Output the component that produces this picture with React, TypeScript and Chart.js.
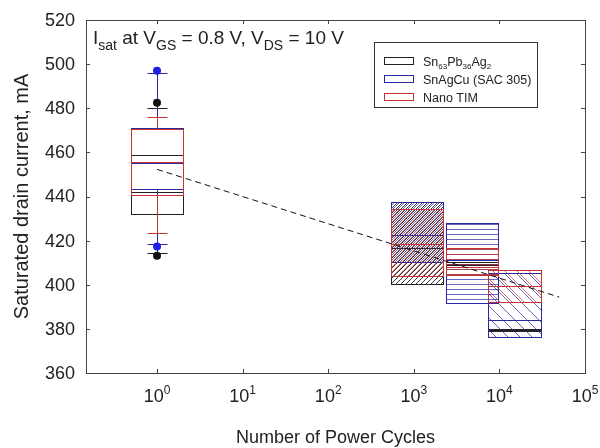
import { useEffect, useRef } from 'react';
import { Chart, registerables } from 'chart.js';

Chart.register(...registerables);

// Power-cycle counts at which each set of boxes is centred
const cycleGroups = [1, 1100, 4800, 15000];
// Fill used by every box in a group
const groupHatch = ['none', 'forward', 'horizontal', 'backward'];

const seriesNames = ['Sn63Pb36Ag2', 'SnAgCu (SAC 305)', 'Nano TIM'];

// Sn63Pb36Ag2 solder
const snpbQ1 = [432, 400.2, 408.8, 379];
const snpbMedian = [459, 416.5, 409.5, 379.5];
const snpbQ3 = [471, 437.4, 410.2, 380];
const snpbMean = [442.2, null, null, null];
const snpbLow = [414.2, null, null, null];
const snpbHigh = [480, null, null, null];
const snpbOutliers = [413.2, 482.5];

// SnAgCu (SAC 305)
const sacQ1 = [443.3, 410.4, 391.9, 376.4];
const sacMedian = [455, 422.5, 411, 384];
const sacQ3 = [471, 437.4, 427.8, 405.3];
const sacMean = [null, null, null, null];
const sacLow = [418.5, null, null, null];
const sacHigh = [495.8, null, null, null];
const sacOutliers = [417.3, 497];

// Nano TIM
const nanoQ1 = [440.7, 404, 404.4, 392.3];
const nanoMedian = [455.5, 418.3, 408.2, 399.5];
const nanoQ3 = [470.6, 434.2, 416.5, 406.7];
const nanoMean = [null, null, null, null];
const nanoLow = [423.6, null, null, null];
const nanoHigh = [475.9, null, null, null];

// Trend line, linear in log(cycles)
const trendCycles = [1, 50000];
const trendCurrent = [452.3, 394.4];

const yTicks = [360, 380, 400, 420, 440, 460, 480, 500, 520];
const xTickExponents = [0, 1, 2, 3, 4, 5];

const X_MIN = 0.148;
const X_MAX = 100000;
const BOX_SPAN = 2.015; // half box width as a factor in cycles
const CAP_HALF = 10;
const FONT = 'Arial, "Liberation Sans", sans-serif';

const BLACK = '#222222';
const BLUE = '#2a2aa0';
const RED = '#c83232';

type Part = [string, 'n' | 'sub' | 'sup'];

function richWidth(ctx: CanvasRenderingContext2D, parts: Part[], size: number, small: number) {
  let w = 0;
  for (const [t, k] of parts) {
    ctx.font = `${k === 'n' ? size : small}px ${FONT}`;
    w += ctx.measureText(t).width;
  }
  return w;
}

function drawRich(
  ctx: CanvasRenderingContext2D,
  parts: Part[],
  x: number,
  y: number,
  size: number,
  small: number,
  align: 'left' | 'center' = 'left'
) {
  let cx = align === 'center' ? x - richWidth(ctx, parts, size, small) / 2 : x;
  ctx.textAlign = 'left';
  ctx.textBaseline = 'alphabetic';
  for (const [t, k] of parts) {
    ctx.font = `${k === 'n' ? size : small}px ${FONT}`;
    const dy = k === 'sub' ? size * 0.3 : k === 'sup' ? -size * 0.45 : 0;
    ctx.fillText(t, cx, y + dy);
    cx += ctx.measureText(t).width;
  }
}

function makeHatch(kind: string, color: string, s: number, offset: number) {
  const c = document.createElement('canvas');
  c.width = s;
  c.height = s;
  const g = c.getContext('2d')!;
  g.strokeStyle = color;
  g.lineWidth = 1;
  g.beginPath();
  if (kind === 'horizontal') {
    g.moveTo(0, s - 0.5);
    g.lineTo(s, s - 0.5);
  } else if (kind === 'forward') {
    g.moveTo(0, s);
    g.lineTo(s, 0);
    g.moveTo(-1, 1);
    g.lineTo(1, -1);
    g.moveTo(s - 1, s + 1);
    g.lineTo(s + 1, s - 1);
  } else {
    g.moveTo(0, 0);
    g.lineTo(s, s);
    g.moveTo(s - 1, -1);
    g.lineTo(s + 1, 1);
    g.moveTo(-1, s - 1);
    g.lineTo(1, s + 1);
  }
  g.stroke();
  const p = g.createPattern(c, 'repeat')!;
  if (offset && (p as any).setTransform) {
    p.setTransform(new DOMMatrix().translate(offset, 0));
  }
  return p;
}

const hatchSpacing: Record<string, number> = { forward: 5, horizontal: 5, backward: 12 };

export default function App() {
  const ref = useRef<HTMLCanvasElement | null>(null);

  useEffect(() => {
    const canvas = ref.current;
    if (!canvas) return;

    const series = [
      { color: BLACK, hatch: 'rgba(20,20,20,0.85)', off: 0, q1: snpbQ1, med: snpbMedian, q3: snpbQ3, mean: snpbMean, low: snpbLow, high: snpbHigh },
      { color: BLUE, hatch: 'rgba(40,40,170,0.7)', off: 2, q1: sacQ1, med: sacMedian, q3: sacQ3, mean: sacMean, low: sacLow, high: sacHigh },
      { color: RED, hatch: 'rgba(200,50,50,0.7)', off: 4, q1: nanoQ1, med: nanoMedian, q3: nanoQ3, mean: nanoMean, low: nanoLow, high: nanoHigh },
    ].map((s) => ({
      ...s,
      patterns: groupHatch.map((h) =>
        h === 'none' ? null : makeHatch(h, s.hatch, hatchSpacing[h], h === 'backward' ? s.off * 1.5 : s.off % hatchSpacing[h])
      ),
    }));

    const boxPlugin = {
      id: 'boxes',
      beforeDatasetsDraw(chart: any) {
        const { ctx } = chart;
        const x = chart.scales.x;
        const y = chart.scales.y;
        const px = (v: number) => Math.round(x.getPixelForValue(v)) + 0.5;
        const py = (v: number) => Math.round(y.getPixelForValue(v)) + 0.5;
        ctx.save();
        for (const s of series) {
          cycleGroups.forEach((c, g) => {
            const left = px(c / BOX_SPAN);
            const right = px(c * BOX_SPAN);
            const mid = px(c);
            const top = py(s.q3[g]);
            const bottom = py(s.q1[g]);
            ctx.strokeStyle = s.color;
            ctx.lineWidth = 1;
            const hi = s.high[g];
            const lo = s.low[g];
            if (hi != null) {
              const yh = py(hi);
              ctx.beginPath();
              ctx.moveTo(mid, top);
              ctx.lineTo(mid, yh);
              ctx.moveTo(mid - CAP_HALF, yh);
              ctx.lineTo(mid + CAP_HALF, yh);
              ctx.stroke();
            }
            if (lo != null) {
              const yl = py(lo);
              ctx.beginPath();
              ctx.moveTo(mid, bottom);
              ctx.lineTo(mid, yl);
              ctx.moveTo(mid - CAP_HALF, yl);
              ctx.lineTo(mid + CAP_HALF, yl);
              ctx.stroke();
            }
            const pat = s.patterns[g];
            if (pat) {
              ctx.fillStyle = pat;
              ctx.fillRect(left, top, right - left, bottom - top);
            }
            ctx.strokeRect(left, top, right - left, bottom - top);
            ctx.beginPath();
            const ym = py(s.med[g]);
            ctx.moveTo(left, ym);
            ctx.lineTo(right, ym);
            const mv = s.mean[g];
            if (mv != null) {
              const ya = py(mv);
              ctx.moveTo(left, ya);
              ctx.lineTo(right, ya);
            }
            ctx.stroke();
          });
        }
        ctx.restore();
      },
    };

    const framePlugin = {
      id: 'frame',
      afterDraw(chart: any) {
        const { ctx, chartArea: a } = chart;
        const x = chart.scales.x;
        const y = chart.scales.y;
        ctx.save();
        // axes frame
        ctx.strokeStyle = '#444';
        ctx.lineWidth = 1;
        ctx.strokeRect(Math.round(a.left) + 0.5, Math.round(a.top) + 0.5, Math.round(a.right - a.left), Math.round(a.bottom - a.top));
        // tick marks, pointing inward
        ctx.beginPath();
        for (const e of xTickExponents) {
          const p = Math.round(x.getPixelForValue(Math.pow(10, e))) + 0.5;
          ctx.moveTo(p, a.bottom);
          ctx.lineTo(p, a.bottom - 4);
          ctx.moveTo(p, a.top);
          ctx.lineTo(p, a.top + 4);
        }
        for (const v of yTicks) {
          const p = Math.round(y.getPixelForValue(v)) + 0.5;
          ctx.moveTo(a.left, p);
          ctx.lineTo(a.left + 4, p);
          ctx.moveTo(a.right, p);
          ctx.lineTo(a.right - 4, p);
        }
        ctx.stroke();

        // tick labels
        ctx.fillStyle = '#222';
        ctx.font = `18px ${FONT}`;
        ctx.textAlign = 'right';
        ctx.textBaseline = 'middle';
        for (const v of yTicks) {
          ctx.fillText(String(v), a.left - 11, y.getPixelForValue(v) + 1);
        }
        for (const e of xTickExponents) {
          const p = x.getPixelForValue(Math.pow(10, e));
          drawRich(ctx, [['10', 'n'], [String(e), 'sup']], p, a.bottom + 29, 18, 12, 'center');
        }

        // axis titles
        ctx.font = `18px ${FONT}`;
        ctx.textAlign = 'center';
        ctx.textBaseline = 'alphabetic';
        ctx.fillText('Number of Power Cycles', (a.left + a.right) / 2, 443);
        ctx.font = `20px ${FONT}`;
        ctx.save();
        ctx.translate(28, (a.top + a.bottom) / 2);
        ctx.rotate(-Math.PI / 2);
        ctx.fillText('Saturated drain current, mA', 0, 0);
        ctx.restore();

        // condition note
        drawRich(
          ctx,
          [['I', 'n'], ['sat', 'sub'], [' at V', 'n'], ['GS', 'sub'], [' = 0.8 V, V', 'n'], ['DS', 'sub'], [' = 10 V', 'n']],
          a.left + 7,
          a.top + 24,
          19,
          14
        );

        // legend
        const lx = 374.5;
        const ly = 42.5;
        ctx.strokeStyle = '#333';
        ctx.strokeRect(lx, ly, 163, 65);
        const legendParts: Part[][] = [
          [['Sn', 'n'], ['63', 'sub'], ['Pb', 'n'], ['36', 'sub'], ['Ag', 'n'], ['2', 'sub']],
          [[seriesNames[1], 'n']],
          [[seriesNames[2], 'n']],
        ];
        const colors = [BLACK, BLUE, RED];
        legendParts.forEach((parts, i) => {
          const cy = 61 + i * 18;
          ctx.strokeStyle = colors[i];
          ctx.strokeRect(384.5, cy - 3.5, 29, 7);
          ctx.fillStyle = '#222';
          drawRich(ctx, parts, 423, cy + 4.5, 12.5, 8);
        });
        ctx.restore();
      },
    };

    const chart = new Chart(canvas, {
      type: 'scatter',
      data: {
        datasets: [
          {
            label: 'trend',
            data: trendCycles.map((c, i) => ({ x: c, y: trendCurrent[i] })),
            showLine: true,
            borderColor: '#111',
            borderWidth: 1,
            borderDash: [6, 4],
            pointRadius: 0,
          },
          {
            label: seriesNames[0],
            data: snpbOutliers.map((v) => ({ x: cycleGroups[0], y: v })),
            pointRadius: 4,
            pointBackgroundColor: '#111',
            pointBorderWidth: 0,
          },
          {
            label: seriesNames[1],
            data: sacOutliers.map((v) => ({ x: cycleGroups[0], y: v })),
            pointRadius: 4,
            pointBackgroundColor: '#1e1ee6',
            pointBorderWidth: 0,
          },
        ],
      },
      options: {
        responsive: false,
        animation: false,
        layout: { padding: { left: 0, top: 20, right: 15, bottom: 0 } },
        plugins: { legend: { display: false }, tooltip: { enabled: false } },
        scales: {
          x: {
            type: 'logarithmic',
            min: X_MIN,
            max: X_MAX,
            grid: { display: false },
            border: { display: false },
            ticks: { display: false },
            afterFit: (s: any) => {
              s.height = 75;
            },
          },
          y: {
            type: 'linear',
            min: 360,
            max: 520,
            grid: { display: false },
            border: { display: false },
            ticks: { display: false },
            afterFit: (s: any) => {
              s.width = 86;
            },
          },
        },
      },
      plugins: [boxPlugin, framePlugin],
    });

    return () => chart.destroy();
  }, []);

  return (
    <div style={{ position: 'absolute', left: 0, top: 0, width: 600, height: 448, background: '#fff' }}>
      <canvas ref={ref} width={600} height={448} style={{ display: 'block' }} />
    </div>
  );
}
